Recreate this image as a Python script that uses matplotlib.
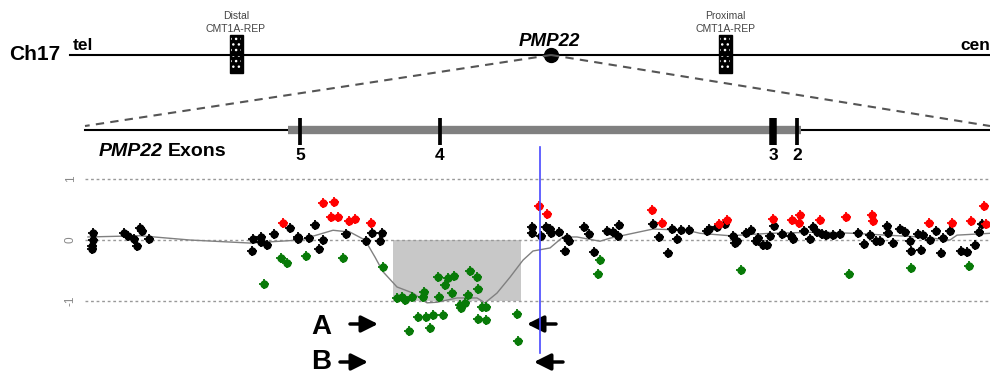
import matplotlib.pyplot as plt
from matplotlib.patches import Rectangle

plt.rcParams['font.family'] = ['Liberation Sans', 'DejaVu Sans']

# probe positions (arbitrary units along the region) and log2 ratios
black_x = [93, 93, 92, 92, 124, 128, 134, 137, 140, 142, 149,
           252, 253, 261, 261, 267, 274, 290, 298, 298, 309, 315, 319, 323, 346, 366, 372, 380, 382,
           532, 532, 541, 546, 550, 551, 559, 567, 569, 565, 584, 589, 594, 607, 613, 619, 618,
           653, 659, 668, 672, 677, 681, 689, 707, 709, 717, 725, 733, 735, 737, 746, 751, 756, 758,
           763, 767, 770, 774, 782, 791, 793, 804, 810, 813, 817, 822, 826, 833, 840, 858, 864, 870,
           876, 880, 887, 888, 893, 900, 905, 910, 911, 918, 921, 923, 930, 936, 941, 943, 950, 961,
           967, 975, 979, 982]
black_y = [0.11, 0.0, -0.10, -0.15, 0.11, 0.07, 0.02, -0.10, 0.20, 0.15, 0.02,
           -0.18, 0.02, 0.05, -0.03, -0.08, 0.10, 0.20, 0.05, 0.02, 0.03, 0.25, -0.15, 0.0, 0.10, -0.02, 0.11, -0.02, 0.11,
           0.21, 0.11, 0.07, 0.21, 0.18, 0.11, 0.13, 0.03, -0.02, -0.18, 0.21, 0.10, -0.20, 0.15, 0.13, 0.25, 0.07,
           0.26, 0.05, -0.21, 0.18, 0.02, 0.16, 0.16, 0.15, 0.18, 0.21, 0.26, 0.07, -0.05, -0.02, 0.11, 0.16, -0.02, 0.03,
           -0.08, -0.08, 0.07, 0.23, 0.10, 0.07, 0.02, 0.15, 0.02, 0.21, 0.13, 0.10, 0.08, 0.08, 0.10, 0.11, -0.07, 0.08,
           -0.02, -0.02, 0.23, 0.11, -0.05, 0.18, 0.13, -0.02, -0.18, 0.10, -0.16, 0.08, 0.0, 0.15, -0.21, 0.03, 0.15, -0.18,
           -0.20, -0.08, 0.13, 0.26]

red_x = [283, 323, 334, 331, 338, 349, 355, 371, 539, 547, 652, 662, 719, 727, 773, 792, 800, 799,
         820, 846, 872, 873, 929, 952, 971, 984, 986]
red_y = [0.28, 0.61, 0.62, 0.38, 0.38, 0.31, 0.34, 0.28, 0.56, 0.43, 0.49, 0.28, 0.26, 0.33, 0.34, 0.33, 0.41, 0.28,
         0.33, 0.38, 0.41, 0.31, 0.28, 0.28, 0.31, 0.56, 0.26]

green_x = [264, 281, 287, 306, 343, 383, 397, 402, 405, 412, 423, 424, 438, 439, 445, 448, 454, 452,
           460, 461, 465, 468, 470, 477, 478, 482, 486, 418, 426, 433, 443, 409, 430, 478, 486, 517, 518,
           600, 598, 741, 849, 911, 969]
green_y = [-0.72, -0.30, -0.38, -0.26, -0.30, -0.44, -0.95, -0.93, -0.98, -0.93, -0.93, -0.85, -0.61, -0.93, -0.74,
           -0.62, -0.59, -0.87, -1.07, -1.11, -1.03, -0.90, -0.51, -0.61, -0.80, -1.10, -1.10, -1.26, -1.26, -1.23,
           -1.23, -1.49, -1.44, -1.30, -1.31, -1.21, -1.66, -0.33, -0.56, -0.49, -0.56, -0.46, -0.43]

# smoothed segmentation curve
smooth_x = [88, 140, 190, 250, 300, 333, 350, 365, 375, 383, 397, 413, 427, 437, 457, 477, 485, 497, 510,
            523, 533, 550, 563, 577, 600, 610, 630, 653, 687, 700, 730, 770, 820, 853, 920, 950, 957, 990]
smooth_y = [0.05, 0.07, 0.0, -0.05, 0.0, 0.16, 0.13, 0.0, -0.28, -0.52, -0.77, -0.87, -1.03, -1.02, -0.95,
            -0.95, -1.03, -0.87, -0.61, -0.33, -0.18, -0.13, 0.05, 0.05, -0.02, 0.03, 0.10, 0.18, 0.16, 0.11,
            0.07, 0.11, 0.13, 0.11, 0.05, 0.0, 0.08, 0.11]

deletion = (393, 521)
breakpoint_x = 540

exon_names = ['5', '4', '3', '2']
exon_pos = [300, 440, 773, 797]
exon_width = [3, 3, 6, 3]

fig = plt.figure(figsize=(9.9, 3.77), dpi=100)

# ---- data panel ----
ax = fig.add_axes([85 / 990, 0, 905 / 990, 207 / 377])
ax.set_xlim(85, 990)
ax.set_ylim(-2.246, 1.148)
for y in [-1, 0, 1]:
    ax.axhline(y, color='#999999', lw=1, ls=(0, (2, 2)), zorder=1)
ax.add_patch(Rectangle((deletion[0], -1), deletion[1] - deletion[0], 1,
                       facecolor='#c8c8c8', edgecolor='none', zorder=0))
ax.plot(smooth_x, smooth_y, color='#808080', lw=1, zorder=2)
for xs, ys, c in [(black_x, black_y, 'black'), (red_x, red_y, '#ff0000'), (green_x, green_y, '#087a08')]:
    ax.scatter(xs, ys, s=36, color=c, zorder=3, linewidths=0)
    ax.scatter(xs, ys, s=60, color=c, marker='+', zorder=3, linewidths=1.3)
ax.plot([breakpoint_x, breakpoint_x], [1.525, -1.85], color='#4848ff', lw=1.2, clip_on=False, zorder=4)
ax.set_yticks([-1, 0, 1])
ax.set_yticklabels(['-1', '0', '1'], rotation=90, va='center', color='#888888', fontsize=8.5)
ax.tick_params(axis='y', length=0, pad=6)
ax.set_xticks([])
for s in ax.spines.values():
    s.set_visible(False)
ax.patch.set_alpha(0)

# ---- schematic (pixel coordinates) ----
top = fig.add_axes([0, 0, 1, 1], zorder=-1)
top.set_xlim(0, 990)
top.set_ylim(377, 0)
top.axis('off')

top.text(9, 54, 'Ch17', fontsize=15, fontweight='bold', va='center', ha='left')
top.plot([70, 990], [55, 55], color='black', lw=1.5)
top.text(73, 45, 'tel', fontsize=12.5, fontweight='bold', va='center')
top.text(990, 45, 'cen', fontsize=12.5, fontweight='bold', va='center', ha='right')

for cx, name in [(236, 'Distal'), (725, 'Proximal')]:
    top.add_patch(Rectangle((cx - 6.5, 35), 13, 38, facecolor='black', edgecolor='black', lw=1))
    top.add_patch(Rectangle((cx - 5, 37), 10, 34, fill=False, hatch='...', edgecolor='white', lw=0))
    top.text(cx, 16, name, fontsize=7.5, ha='center', va='center', color='#444444')
    top.text(cx, 29, 'CMT1A-REP', fontsize=7.5, ha='center', va='center', color='#444444')

top.text(549, 41, 'PMP22', fontsize=13.5, fontweight='bold', style='italic', ha='center', va='center')
top.plot([551], [55], 'o', color='black', ms=10)
top.plot([551, 85], [55, 126], color='#555555', lw=1.5, ls=(0, (4, 3)))
top.plot([551, 990], [55, 126], color='#555555', lw=1.5, ls=(0, (4, 3)))

top.plot([85, 990], [130, 130], color='black', lw=1.5)
top.plot([288, 801], [130, 130], color='#808080', lw=6, solid_capstyle='butt')
for name, x, w in zip(exon_names, exon_pos, exon_width):
    top.plot([x, x], [118, 145], color='black', lw=w * 0.9, solid_capstyle='butt')
    top.text(x, 156, name, fontsize=12.5, fontweight='bold', ha='center', va='center')
top.text(99, 152, 'PMP22', fontsize=14, fontweight='bold', style='italic', va='center')
top.text(168, 152, 'Exons', fontsize=14, fontweight='bold', va='center')

# breakpoint arrows
arrow = dict(arrowstyle='-|>,head_length=1.0,head_width=0.5', lw=2.5, color='black',
             mutation_scale=10, shrinkA=0, shrinkB=0)
top.text(321, 327, 'A', fontsize=20, fontweight='bold', ha='center', va='center')
top.text(321, 362, 'B', fontsize=20, fontweight='bold', ha='center', va='center')
top.annotate('', xy=(378, 324), xytext=(350, 324), arrowprops=arrow)
top.annotate('', xy=(368, 362), xytext=(340, 362), arrowprops=arrow)
top.annotate('', xy=(527, 324), xytext=(556, 324), arrowprops=arrow)
top.annotate('', xy=(534, 362), xytext=(563, 362), arrowprops=arrow)

plt.savefig('out.png', dpi=100)
